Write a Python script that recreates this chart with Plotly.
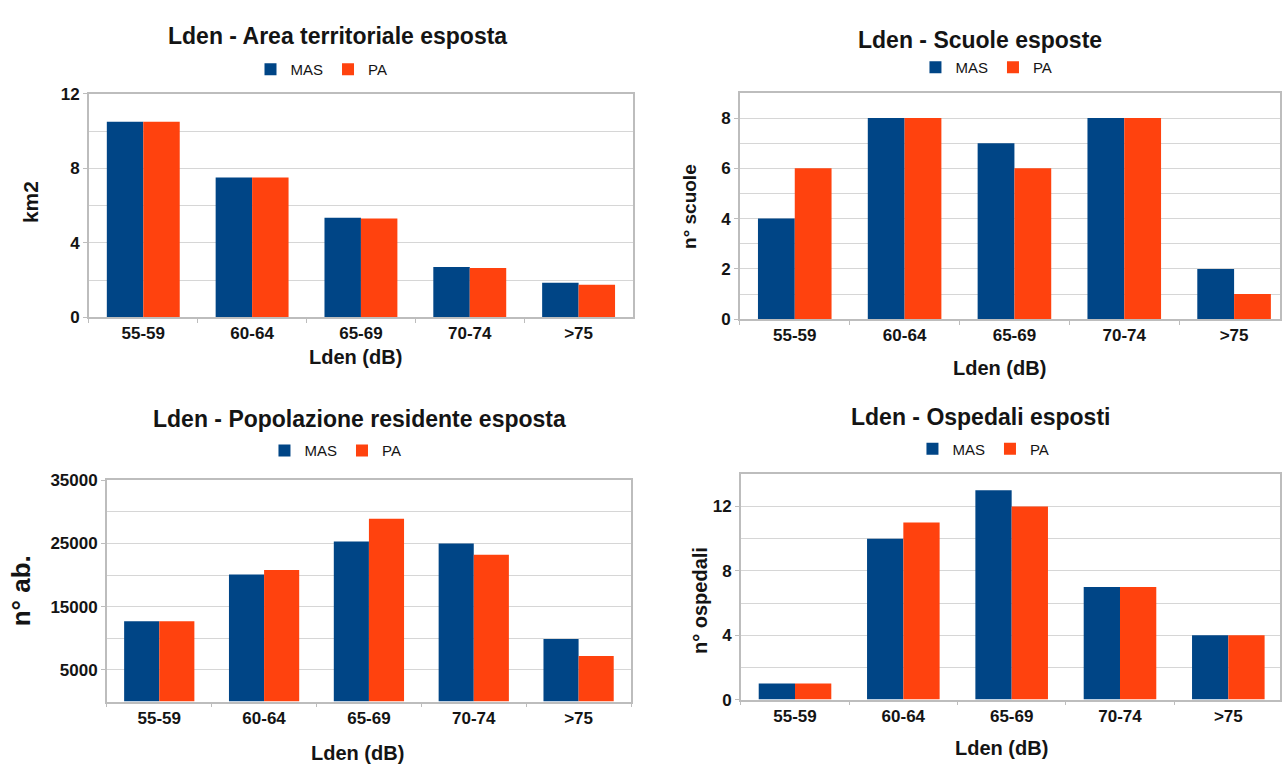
import plotly.graph_objects as go

# Noise exposure classes (Lden, dB)
categories = ["55-59", "60-64", "65-69", "70-74", ">75"]

# Exposed territorial area (km2)
area_mas = [10.5, 7.5, 5.35, 2.7, 1.85]
area_pa = [10.5, 7.5, 5.3, 2.65, 1.75]

# Exposed schools (count)
scuole_mas = [4, 8, 7, 8, 2]
scuole_pa = [6, 8, 6, 8, 1]

# Exposed resident population (inhabitants)
pop_mas = [12700, 20100, 25300, 25000, 9900]
pop_pa = [12700, 20800, 28900, 23200, 7200]

# Exposed hospitals (count)
osp_mas = [1, 10, 13, 7, 4]
osp_pa = [1, 11, 12, 7, 4]

W, H = 1282, 773
BLUE = "#004586"
ORANGE = "#ff420e"
FONT = "Liberation Sans, Arial, sans-serif"
TXT = "#141414"
GRID = "#d6d6d6"
AXIS = "#bdbdbd"


def px_x(v):
    return v / W


def px_y(v):
    return 1 - v / H


fig = go.Figure()

panels = [
    # (suffix, mas, pa, legend, x-domain px, y-domain px (top, bottom), x-range, y-range)
    ("", area_mas, area_pa, "legend", (89, 634), (87, 316), [-0.5, 4.5], [0, 12]),
    ("2", scuole_mas, scuole_pa, "legend2", (741, W), (86, 318), [-0.5, 4.418], [0, 9]),
    ("3", pop_mas, pop_pa, "legend3", (107, 632), (483, 710), [-0.5, 4.5], [0, 35000]),
    ("4", osp_mas, osp_pa, "legend4", (742, W), (477, 708), [-0.5, 4.477], [0, 14]),
]

for suf, mas, pa, leg, xd, yd, xr, yr in panels:
    xa = "x" + suf
    ya = "y" + suf
    fig.add_trace(go.Bar(x=categories, y=mas, name="MAS", marker_color=BLUE,
                         marker_line_width=0, xaxis=xa, yaxis=ya, legend=leg))
    fig.add_trace(go.Bar(x=categories, y=pa, name="PA", marker_color=ORANGE,
                         marker_line_width=0, xaxis=xa, yaxis=ya, legend=leg))

tick_font = dict(family=FONT, size=17, color=TXT, weight="bold")
minor_grid = dict(showgrid=True, gridcolor=GRID, gridwidth=1)

y_ticks = {
    "": dict(tickvals=[0, 4, 8, 12], minor=dict(dtick=2, **minor_grid)),
    "2": dict(tickvals=[0, 2, 4, 6, 8], minor=dict(dtick=1, **minor_grid)),
    "3": dict(tickvals=[5000, 15000, 25000, 35000], tickformat="d",
              minor=dict(tick0=0, dtick=5000, **minor_grid)),
    "4": dict(tickvals=[0, 4, 8, 12], minor=dict(dtick=2, **minor_grid)),
}

layout = dict(
    width=W, height=H,
    margin=dict(l=0, r=0, t=0, b=0),
    paper_bgcolor="white", plot_bgcolor="white",
    barmode="group", bargap=0.33, bargroupgap=0,
    font=dict(family=FONT, color=TXT),
)

for suf, mas, pa, leg, xd, yd, xr, yr in panels:
    layout["xaxis" + suf] = dict(
        domain=[px_x(xd[0]), min(1, px_x(xd[1]))],
        anchor="y" + suf, range=xr, type="category",
        showline=True, linecolor=AXIS, linewidth=1.5, mirror=True,
        ticks="outside", tickson="boundaries", ticklen=4, tickcolor=AXIS,
        tickfont=tick_font, showgrid=False, fixedrange=True,
    )
    ycfg = dict(
        domain=[px_y(yd[1]), px_y(yd[0])],
        anchor="x" + suf, range=yr,
        showline=True, linecolor=AXIS, linewidth=1.5, mirror=True,
        ticks="outside", ticklen=4, tickcolor=AXIS,
        tickfont=tick_font, showgrid=True, gridcolor=GRID, gridwidth=1,
        zeroline=False, fixedrange=True,
    )
    ycfg.update(y_ticks[suf])
    layout["yaxis" + suf] = ycfg

# Legends above each panel
legend_pos = {
    "legend": (322, 62),
    "legend2": (988, 60),
    "legend3": (336, 453),
    "legend4": (985, 451),
}
for name, (lx, ly) in legend_pos.items():
    layout[name] = dict(
        x=px_x(lx), y=px_y(ly), xanchor="center", yanchor="middle",
        orientation="h", font=dict(family=FONT, size=15, color=TXT),
        itemwidth=30, bgcolor="rgba(0,0,0,0)", traceorder="normal",
        itemclick=False, itemdoubleclick=False, tracegroupgap=0,
    )

fig.update_layout(**layout)

# Panel titles
titles = [
    ("Lden - Area territoriale esposta", 338, 28),
    ("Lden - Scuole esposte", 982, 32),
    ("Lden - Popolazione residente esposta", 360, 420),
    ("Lden - Ospedali esposti", 982, 418),
]
for text, tx, ty in titles:
    fig.add_annotation(text="<b>%s</b>" % text, x=px_x(tx), y=px_y(ty),
                       xref="paper", yref="paper", showarrow=False,
                       xanchor="center", yanchor="middle",
                       font=dict(family=FONT, size=23, color=TXT))

# Axis titles
x_titles = [(356, 357), (1001, 368), (358, 763), (1003, 758)]
for tx, ty in x_titles:
    fig.add_annotation(text="<b>Lden (dB)</b>", x=px_x(tx), y=px_y(ty),
                       xref="paper", yref="paper", showarrow=False,
                       xanchor="center", yanchor="middle",
                       font=dict(family=FONT, size=20, color=TXT))

y_titles = [
    ("km2", 30, 198, 21),
    ("n° scuole", 690, 202, 19),
    ("n° ab.", 21, 596, 26),
    ("n° ospedali", 701, 606, 20),
]
for text, tx, ty, sz in y_titles:
    fig.add_annotation(text="<b>%s</b>" % text, x=px_x(tx), y=px_y(ty),
                       xref="paper", yref="paper", showarrow=False,
                       xanchor="center", yanchor="middle", textangle=-90,
                       font=dict(family=FONT, size=sz, color=TXT))

fig.write_html("out.html", config=dict(displayModeBar=False))
